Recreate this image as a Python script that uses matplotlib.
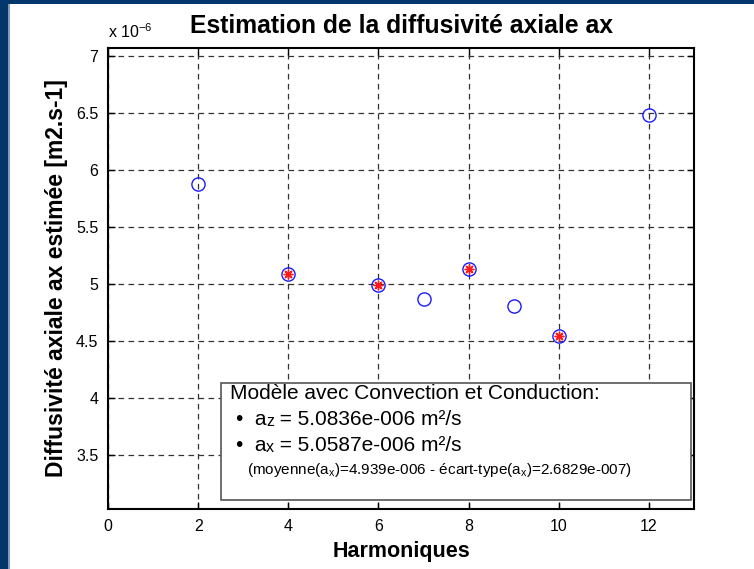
import matplotlib
matplotlib.use("Agg")
import matplotlib.pyplot as plt
from matplotlib.patches import Rectangle

plt.rcParams['font.family'] = ['Liberation Sans', 'DejaVu Sans']
plt.rcParams['mathtext.fontset'] = 'custom'
plt.rcParams['mathtext.rm'] = 'Liberation Sans'
plt.rcParams['mathtext.it'] = 'Liberation Sans'

# Data (values in units of 1e-6 m2/s)
harmonics = [2, 4, 6, 7, 8, 9, 10, 12]
ax_values = [5.877, 5.088, 4.99, 4.87, 5.133, 4.811, 4.544, 6.48]
selected_harmonics = [4, 6, 8, 10]
selected_values = [5.088, 4.99, 5.133, 4.544]

xticks = [0, 2, 4, 6, 8, 10, 12]
yticks = [3.5, 4, 4.5, 5, 5.5, 6, 6.5, 7]
ytick_labels = ['3.5', '4', '4.5', '5', '5.5', '6', '6.5', '7']

title = "Estimation de la diffusivité axiale ax"
xlabel = "Harmoniques"
ylabel = "Diffusivité axiale ax estimée [m2.s-1]"
box_title = "Modèle avec Convection et Conduction:"
az_value = "5.0836e-006"
ax_value = "5.0587e-006"
mean_value = "4.939e-006"
std_value = "2.6829e-007"

W, H = 754, 569
fig = plt.figure(figsize=(W / 100, H / 100), dpi=100)
fig.patch.set_facecolor('white')

# dark blue frame on the left and top
fig.patches.append(Rectangle((0, 0), 8 / W, 1, transform=fig.transFigure,
                             facecolor='#03366a', edgecolor='none', zorder=0))
fig.patches.append(Rectangle((8 / W, 0), 1.5 / W, 1 - 4 / H, transform=fig.transFigure,
                             facecolor='#7f9cc0', edgecolor='none', zorder=0))
fig.patches.append(Rectangle((0, 1 - 4 / H), 1, 4 / H, transform=fig.transFigure,
                             facecolor='#03366a', edgecolor='none', zorder=0))

left, right, top, bottom = 108, 694, 48, 509
ax = fig.add_axes([left / W, 1 - bottom / H, (right - left) / W, (bottom - top) / H])
ax.set_xlim(0, 13)
ax.set_ylim(3.03, 7.07)

ax.set_xticks(xticks)
ax.set_xticklabels([str(t) for t in xticks])
ax.set_yticks(yticks)
ax.set_yticklabels(ytick_labels)
ax.tick_params(direction='in', length=5, width=1, top=True, right=True,
               labelsize=11.5, pad=7, colors='black')

for s in ax.spines.values():
    s.set_linewidth(1.5)
    s.set_color('black')

ax.grid(True, color='#333333', linestyle=(0, (4.5, 3.5)), linewidth=0.9)
ax.set_axisbelow(True)

ax.plot(harmonics, ax_values, linestyle='none', marker='o', markersize=9.5,
        markerfacecolor='none', markeredgecolor='#1a1aff', markeredgewidth=1.0, zorder=3)
ax.plot(selected_harmonics, selected_values, linestyle='none', marker=(8, 2, 0),
        markersize=7, markeredgecolor='#ff1a1a', markerfacecolor='#ff1a1a',
        markeredgewidth=1.0, zorder=4)

ax.set_title(title, fontsize=17.8, fontweight='bold', pad=11)
ax.set_xlabel(xlabel, fontsize=15.5, fontweight='bold', labelpad=5)
ax.set_ylabel(ylabel, fontsize=16.5, fontweight='bold', labelpad=6)

# exponent label
ax.text(0.0, 1.015, r"x 10$^{\mathregular{-6}}$", transform=ax.transAxes,
        fontsize=11.5, ha='left', va='bottom')

# annotation box
box = Rectangle((2.51, 3.105), 12.93 - 2.51, 4.13 - 3.105, facecolor='white',
                edgecolor='#555555', linewidth=1.2, zorder=5)
ax.add_patch(box)


def chain(parts, x, y):
    prev = ax.text(x, y, parts[0][0], fontsize=parts[0][1], ha='left',
                   va='baseline', zorder=6)
    for s, fs in parts[1:]:
        prev = ax.annotate(s, xy=(1, 0), xycoords=prev, fontsize=fs,
                           ha='left', va='bottom', zorder=6,
                           annotation_clip=False)
    return prev


ax.text(2.7, 3.99, box_title, fontsize=15, ha='left', va='baseline', zorder=6)
chain([("•  a", 15), ("z", 11.5), (" = " + az_value + " m²/s", 15)], 2.83, 3.77)
chain([("•  a", 15), ("x", 11.5), (" = " + ax_value + " m²/s", 15)], 2.83, 3.535)
ax.text(3.08, 3.34,
        "(moyenne(a$_{\\mathregular{x}}$)=" + mean_value +
        " - écart-type(a$_{\\mathregular{x}}$)=" + std_value + ")",
        fontsize=11, ha='left', va='baseline', zorder=6)

fig.savefig("out.png", dpi=100, facecolor=fig.get_facecolor())
